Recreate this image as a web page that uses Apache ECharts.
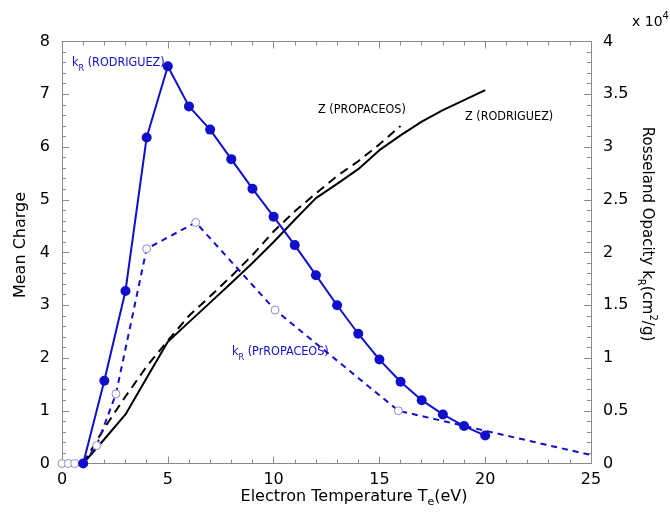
<!DOCTYPE html>
<html><head><meta charset="utf-8">
<script src="https://cdn.jsdelivr.net/npm/echarts@6/dist/echarts.min.js"></script>
<style>html,body{margin:0;padding:0;background:#fff}#c{width:670px;height:515px}</style>
</head><body><div id="c"></div>
<script>
// Electron temperature (eV) for each series
const kRRodT = [1,2,3,4,5,6,7,8,9,10,11,12,13,14,15,16,17,18,19,20];
// Rosseland opacity, RODRIGUEZ (x 1e4 cm^2/g)
const kRRod = [0,0.785,1.635,3.09,3.765,3.385,3.165,2.885,2.605,2.34,2.07,1.785,1.5,1.23,0.985,0.775,0.6,0.465,0.355,0.265];
const kRPropT = [0,0.3,0.6,1,1.64,2.55,4.0,6.32,10.07,15.9,25];
// Rosseland opacity, PROPACEOS (x 1e4 cm^2/g)
const kRProp = [0,0,0,0,0.17,0.66,2.035,2.285,1.455,0.5,0.08];
const zRodT = [1,2,3,4,5,6,7,8,9,10,11,12,13,14,15,16,17,18,19,20];
const zRod = [0,0.46,0.93,1.62,2.31,2.68,3.05,3.42,3.8,4.2,4.62,5.03,5.3,5.58,5.94,6.22,6.48,6.7,6.89,7.08];
const zPropT = [1,2,3,4,5,6,7,8,9,10,11,12,13,14,15,16];
const zProp = [0,0.67,1.27,1.84,2.33,2.8,3.17,3.55,3.95,4.4,4.78,5.12,5.45,5.73,6.05,6.4];

const pairs = (xs, ys) => xs.map((x, i) => [x, ys[i]]);
const BLUE = '#1010cc';
const FONT = 'DejaVu Sans';
const axisGray = '#8a8a8a';

const baseAxis = {
  type: 'value',
  axisLine: {show: true, onZero: false, lineStyle: {color: axisGray, width: 1}},
  axisTick: {show: true, inside: true, length: 7, lineStyle: {color: axisGray}},
  minorTick: {show: true, splitNumber: 5, length: 4, lineStyle: {color: axisGray}},
  splitLine: {show: false},
  axisLabel: {color: '#000', fontFamily: FONT, fontSize: 16}
};

const chart = echarts.init(document.getElementById('c'), null, {renderer: 'canvas'});
chart.setOption({
  animation: false,
  backgroundColor: '#fff',
  grid: {left: 62, right: 79, top: 41.5, bottom: 51.5, containLabel: false},
  xAxis: [
    Object.assign({}, baseAxis, {position: 'bottom', min: 0, max: 25, interval: 5,
      axisLabel: Object.assign({}, baseAxis.axisLabel, {margin: 8})}),
    Object.assign({}, baseAxis, {position: 'top', min: 0, max: 25, interval: 5,
      axisLabel: {show: false}})
  ],
  yAxis: [
    Object.assign({}, baseAxis, {position: 'left', min: 0, max: 8, interval: 1,
      axisLabel: Object.assign({}, baseAxis.axisLabel, {margin: 12})}),
    Object.assign({}, baseAxis, {position: 'right', min: 0, max: 4, interval: 0.5,
      axisLabel: Object.assign({}, baseAxis.axisLabel, {margin: 12})})
  ],
  series: [
    {name: 'Z (PROPACEOS)', type: 'line', xAxisIndex: 0, yAxisIndex: 0, data: pairs(zPropT, zProp),
     showSymbol: false, symbol: 'none', lineStyle: {color: '#000', width: 2, type: [9, 6]}, z: 2},
    {name: 'Z (RODRIGUEZ)', type: 'line', xAxisIndex: 0, yAxisIndex: 0, data: pairs(zRodT, zRod),
     symbol: 'none', lineStyle: {color: '#000', width: 2}, z: 2},
    {name: 'kR (PROPACEOS)', type: 'line', xAxisIndex: 0, yAxisIndex: 1, data: pairs(kRPropT, kRProp),
     symbol: 'circle', symbolSize: (v, p) => (p.dataIndex === kRPropT.length - 1 ? 0 : 8),
     itemStyle: {color: '#ffffff', borderColor: '#8c8cd0', borderWidth: 1},
     lineStyle: {color: BLUE, width: 2, type: [6, 5]}, z: 3},
    {name: 'kR (RODRIGUEZ)', type: 'line', xAxisIndex: 0, yAxisIndex: 1, data: pairs(kRRodT, kRRod),
     symbol: 'circle', symbolSize: 10, itemStyle: {color: BLUE},
     lineStyle: {color: BLUE, width: 2}, z: 4}
  ],
  graphic: [
    {type: 'text', x: 21, y: 245, rotation: Math.PI / 2,
     style: {text: 'Mean Charge', fontFamily: FONT, fontSize: 16, fill: '#000', align: 'center', verticalAlign: 'middle'}},
    {type: 'text', x: 354, y: 497,
     style: {text: '{a|Electron Temperature T}{s|e}{a|(eV)}', align: 'center', verticalAlign: 'middle',
       rich: {a: {fontFamily: FONT, fontSize: 16, fill: '#000', lineHeight: 22, verticalAlign: 'middle'},
              s: {fontFamily: FONT, fontSize: 11, fill: '#000', lineHeight: 11, verticalAlign: 'bottom'}}}},
    {type: 'text', x: 647, y: 234, rotation: -Math.PI / 2,
     style: {text: '{a|Rosseland Opacity k}{s|R}{a|(cm}{p|2}{a|/g)}', align: 'center', verticalAlign: 'middle',
       rich: {a: {fontFamily: FONT, fontSize: 15, fill: '#000', lineHeight: 22, verticalAlign: 'middle'},
              s: {fontFamily: FONT, fontSize: 10, fill: '#000', lineHeight: 10, verticalAlign: 'bottom'},
              p: {fontFamily: FONT, fontSize: 10, fill: '#000', lineHeight: 10, verticalAlign: 'top'}}}},
    {type: 'text', x: 632, y: 22,
     style: {text: '{a|x 10}{p|4}', align: 'left', verticalAlign: 'middle',
       rich: {a: {fontFamily: FONT, fontSize: 14, fill: '#000', lineHeight: 22, verticalAlign: 'middle'},
              p: {fontFamily: FONT, fontSize: 10, fill: '#000', lineHeight: 10, verticalAlign: 'top'}}}},
    {type: 'text', x: 72, y: 63,
     style: {text: '{a|k}{s|R}{a| (RODRIGUEZ)}', align: 'left', verticalAlign: 'middle',
       rich: {a: {fontFamily: 'DejaVu Sans Condensed', fontSize: 12.5, fill: BLUE, lineHeight: 20, verticalAlign: 'middle'},
              s: {fontFamily: 'DejaVu Sans Condensed', fontSize: 9, fill: BLUE, lineHeight: 9, verticalAlign: 'bottom'}}}},
    {type: 'text', x: 232, y: 352,
     style: {text: '{a|k}{s|R}{a| (PrROPACEOS)}', align: 'left', verticalAlign: 'middle',
       rich: {a: {fontFamily: 'DejaVu Sans Condensed', fontSize: 12.5, fill: BLUE, lineHeight: 20, verticalAlign: 'middle'},
              s: {fontFamily: 'DejaVu Sans Condensed', fontSize: 9, fill: BLUE, lineHeight: 9, verticalAlign: 'bottom'}}}},
    {type: 'text', x: 318, y: 110,
     style: {text: 'Z (PROPACEOS)', fontFamily: 'DejaVu Sans Condensed', fontSize: 12.5, fill: '#000', align: 'left', verticalAlign: 'middle'}},
    {type: 'text', x: 465, y: 117,
     style: {text: 'Z (RODRIGUEZ)', fontFamily: 'DejaVu Sans Condensed', fontSize: 12.5, fill: '#000', align: 'left', verticalAlign: 'middle'}}
  ]
});
</script></body></html>
